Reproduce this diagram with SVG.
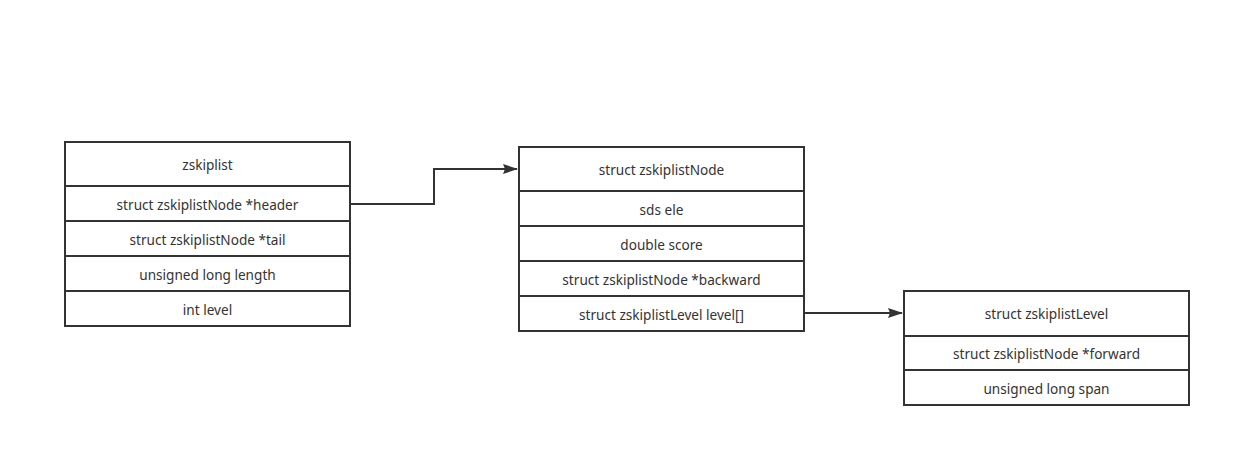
<svg xmlns="http://www.w3.org/2000/svg" width="1251" height="467" viewBox="0 0 1251 467">
<style>
.box{fill:#fff;stroke:#333;stroke-width:2}
.div{stroke:#333;stroke-width:2;fill:none}
.t{font-family:"Noto Sans","Open Sans",sans-serif;font-size:13.6px;fill:#333;text-anchor:middle;dominant-baseline:central}
.c{stroke:#333;stroke-width:2;fill:none}
</style>
<defs>
<marker id="arr" markerWidth="15" markerHeight="10" refX="14" refY="5" orient="auto" markerUnits="userSpaceOnUse">
<path d="M0,0 L15,5 L0,10 L2,5 Z" fill="#333"/>
</marker>
</defs>
<rect width="1251" height="467" fill="#fff"/>
<g id="zskiplist">
<rect class="box" x="65" y="142" width="285" height="184"/>
<path class="div" d="M65,186H350M65,221H350M65,256H350M65,291H350"/>
<text class="t" x="207.5" y="164">zskiplist</text>
<text class="t" x="207.5" y="204">struct zskiplistNode *header</text>
<text class="t" x="207.5" y="239">struct zskiplistNode *tail</text>
<text class="t" x="207.5" y="274">unsigned long length</text>
<text class="t" x="207.5" y="309">int level</text>
</g>
<g id="zskiplistNode">
<rect class="box" x="519" y="147" width="285" height="184"/>
<path class="div" d="M519,191H804M519,226H804M519,261H804M519,296H804"/>
<text class="t" x="661.5" y="169">struct zskiplistNode</text>
<text class="t" x="661.5" y="209">sds ele</text>
<text class="t" x="661.5" y="244">double score</text>
<text class="t" x="661.5" y="279">struct zskiplistNode *backward</text>
<text class="t" x="661.5" y="314">struct zskiplistLevel level[]</text>
</g>
<g id="zskiplistLevel">
<rect class="box" x="904" y="291" width="285" height="114"/>
<path class="div" d="M904,336H1189M904,370H1189"/>
<text class="t" x="1046.5" y="313">struct zskiplistLevel</text>
<text class="t" x="1046.5" y="353">struct zskiplistNode *forward</text>
<text class="t" x="1046.5" y="388">unsigned long span</text>
</g>
<g id="connectors">
<path class="c" d="M350,204H434V169H517" marker-end="url(#arr)"/>
<path class="c" d="M804,313H902" marker-end="url(#arr)"/>
</g>
</svg>
